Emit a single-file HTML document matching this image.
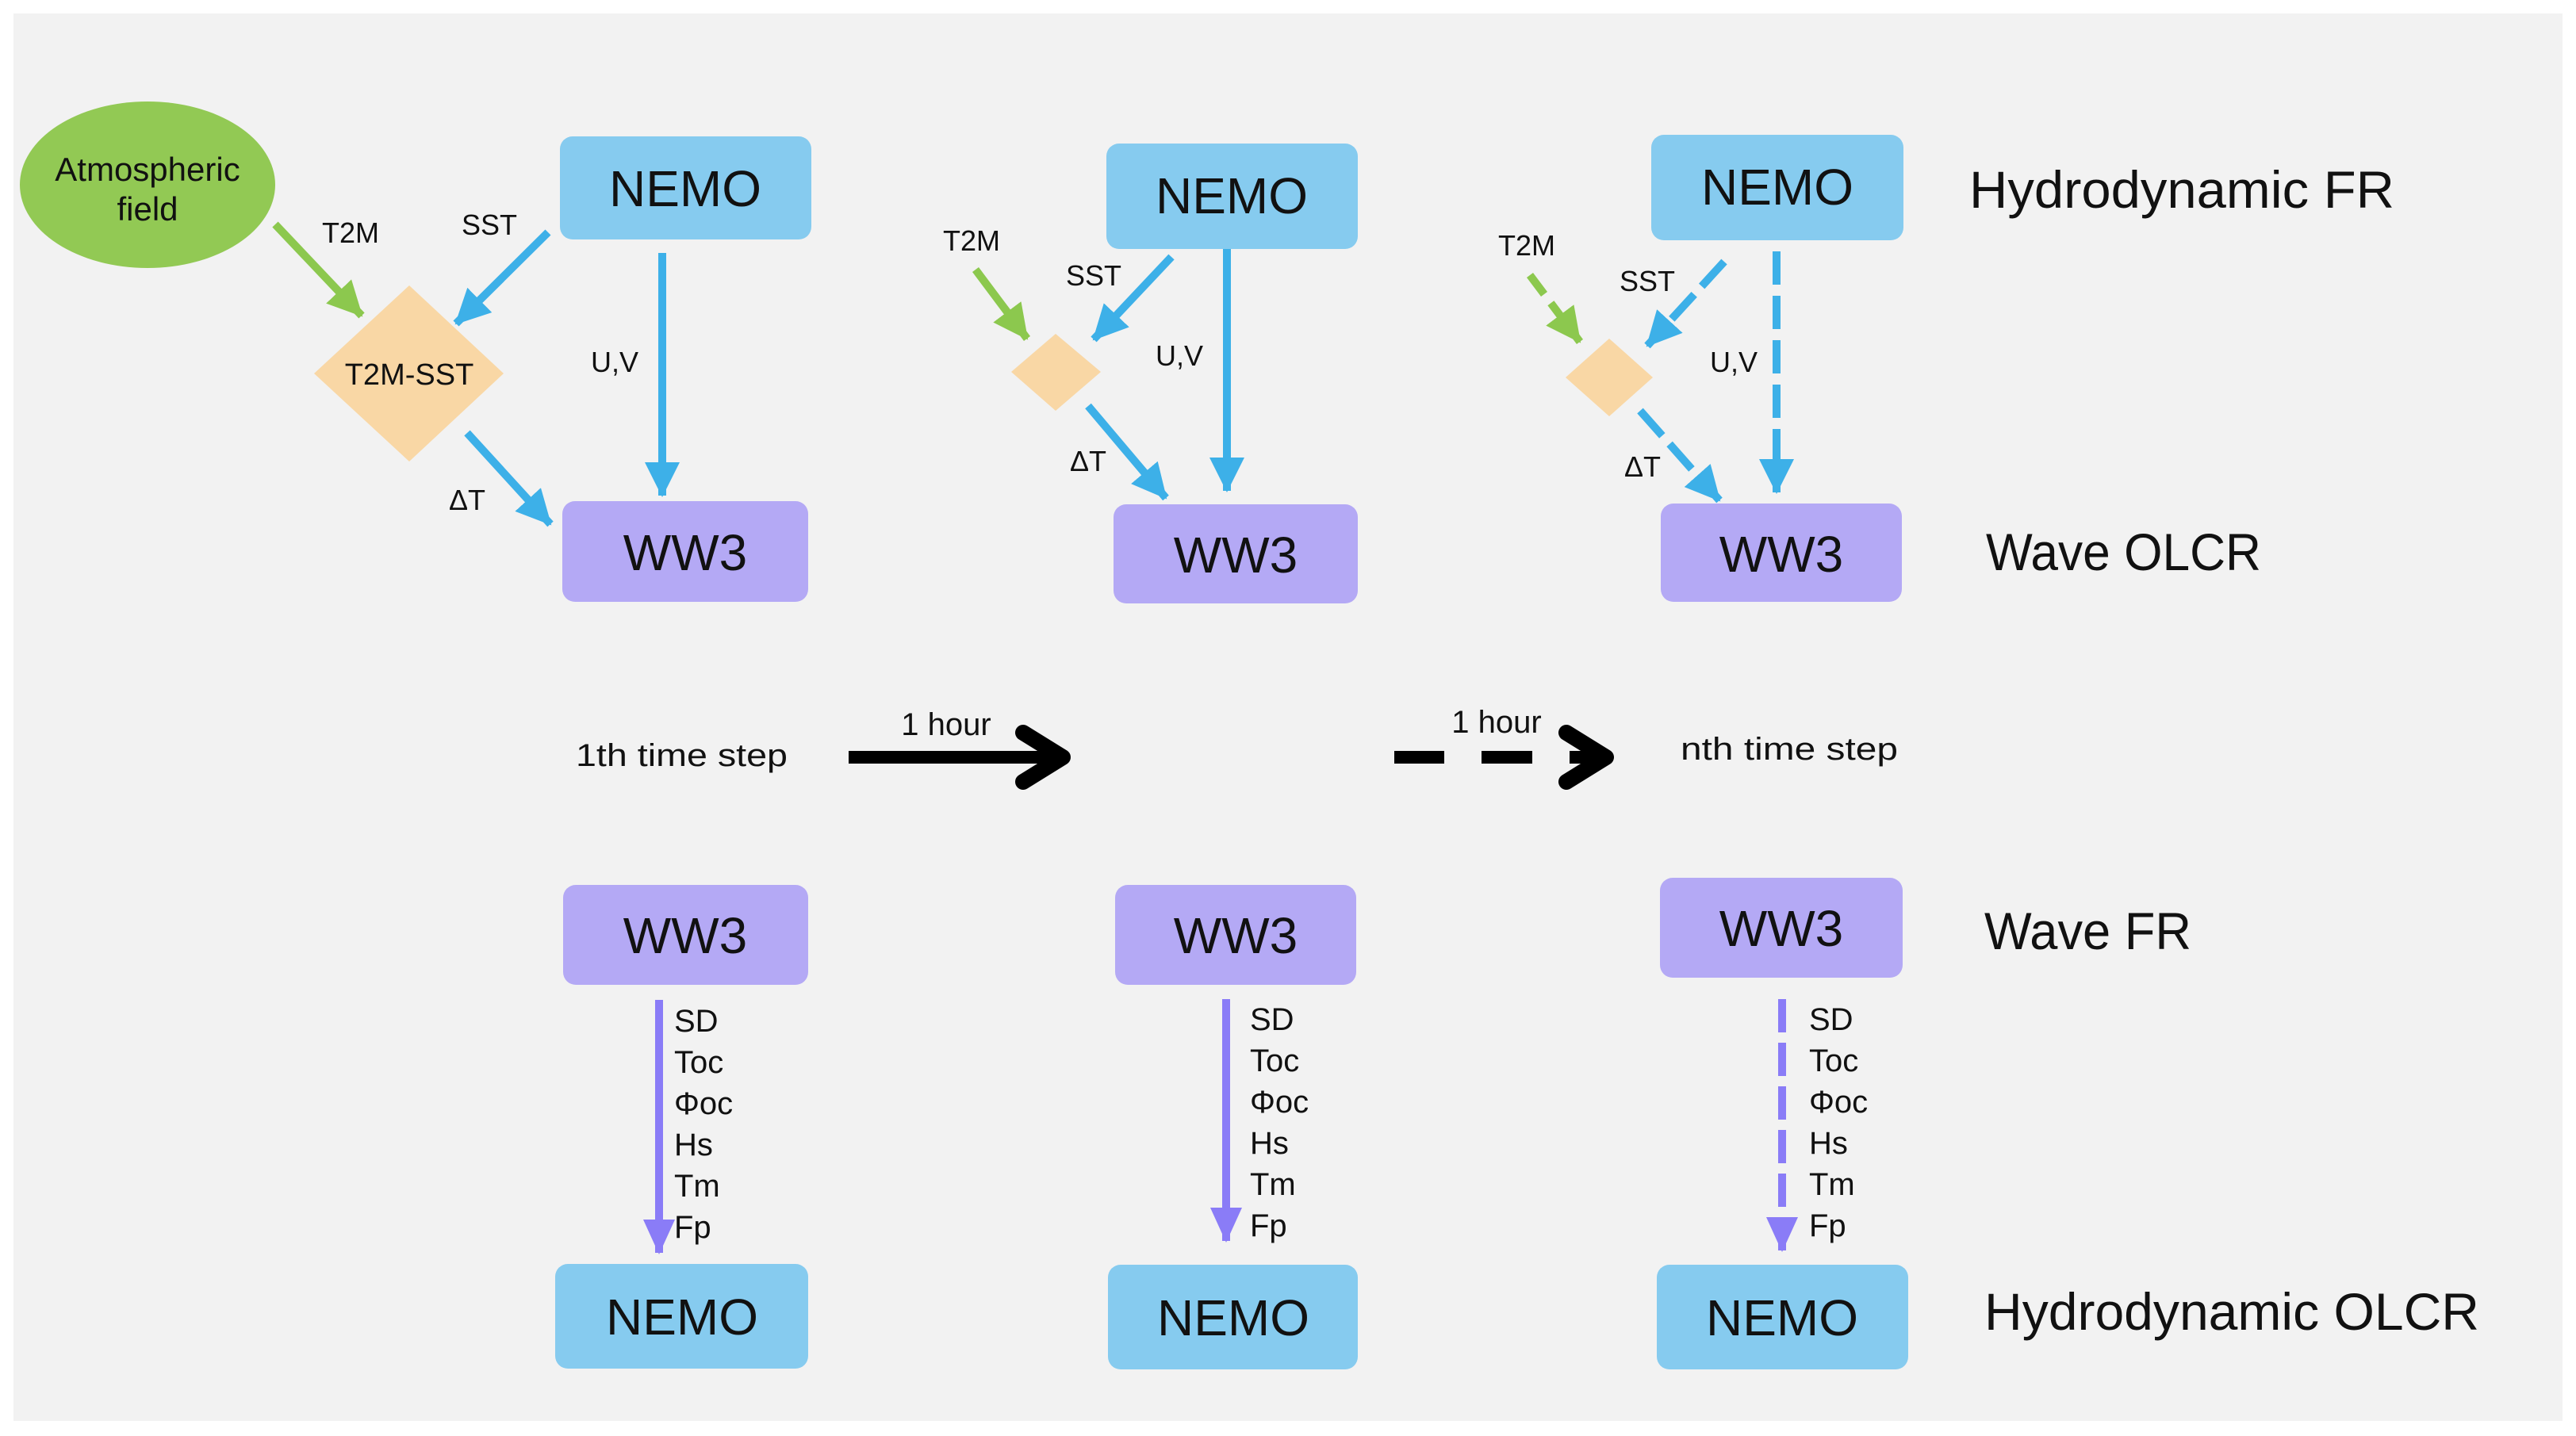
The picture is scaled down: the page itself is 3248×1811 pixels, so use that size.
<!DOCTYPE html>
<html><head><meta charset="utf-8"><style>
html,body{margin:0;padding:0;background:#fff;}
svg{display:block;}
text{font-family:"Liberation Sans",sans-serif;fill:#111;}
</style></head><body>
<svg width="3248" height="1811" viewBox="0 0 3248 1811" xmlns="http://www.w3.org/2000/svg">
<defs>
<marker id="mb" markerUnits="userSpaceOnUse" markerWidth="46" markerHeight="44" refX="42" refY="22" orient="auto"><path d="M0,0 L44,22 L0,44 z" fill="#3DB0E8"/></marker>
<marker id="mg" markerUnits="userSpaceOnUse" markerWidth="46" markerHeight="44" refX="42" refY="22" orient="auto"><path d="M0,0 L44,22 L0,44 z" fill="#8CC84E"/></marker>
<marker id="mp" markerUnits="userSpaceOnUse" markerWidth="46" markerHeight="40" refX="42" refY="20" orient="auto"><path d="M0,0 L44,20 L0,40 z" fill="#8A7CF7"/></marker>
</defs>
<rect x="17" y="17" width="3214" height="1775" fill="#F2F2F2"/>

<!-- Column 1 -->
<ellipse cx="186" cy="233" rx="161" ry="105" fill="#92C954"/>
<text x="186" y="228" font-size="42" text-anchor="middle">Atmospheric</text>
<text x="186" y="278" font-size="42" text-anchor="middle">field</text>
<rect x="706" y="172" width="317" height="130" rx="16" fill="#86CBEF"/>
<text x="864" y="260" font-size="64" text-anchor="middle">NEMO</text>
<polygon points="516,360 635,471 516,582 396,471" fill="#F9D7A5"/>
<text x="516" y="485" font-size="38" text-anchor="middle">T2M-SST</text>
<rect x="709" y="632" width="310" height="127" rx="16" fill="#B4A9F5"/>
<text x="864" y="719" font-size="64" text-anchor="middle">WW3</text>
<line x1="347" y1="283" x2="456" y2="398" stroke="#8CC84E" stroke-width="10" marker-end="url(#mg)"/>
<line x1="691" y1="293" x2="575" y2="408" stroke="#3DB0E8" stroke-width="10" marker-end="url(#mb)"/>
<line x1="835" y1="319" x2="835" y2="625" stroke="#3DB0E8" stroke-width="10" marker-end="url(#mb)"/>
<line x1="589" y1="546" x2="694" y2="661" stroke="#3DB0E8" stroke-width="10" marker-end="url(#mb)"/>
<text x="442" y="306" font-size="36" text-anchor="middle">T2M</text>
<text x="617" y="296" font-size="36" text-anchor="middle">SST</text>
<text x="775" y="469" font-size="36" text-anchor="middle">U,V</text>
<text x="589" y="643" font-size="36" text-anchor="middle">ΔT</text>

<!-- Column 2 -->
<rect x="1395" y="181" width="317" height="133" rx="16" fill="#86CBEF"/>
<text x="1553" y="269" font-size="64" text-anchor="middle">NEMO</text>
<polygon points="1331,421 1388,469 1331,518 1275,469" fill="#F9D7A5"/>
<rect x="1404" y="636" width="308" height="125" rx="16" fill="#B4A9F5"/>
<text x="1558" y="722" font-size="64" text-anchor="middle">WW3</text>
<line x1="1230" y1="340" x2="1295" y2="427" stroke="#8CC84E" stroke-width="10" marker-end="url(#mg)"/>
<line x1="1477" y1="324" x2="1379" y2="428" stroke="#3DB0E8" stroke-width="10" marker-end="url(#mb)"/>
<line x1="1547" y1="314" x2="1547" y2="619" stroke="#3DB0E8" stroke-width="10" marker-end="url(#mb)"/>
<line x1="1372" y1="512" x2="1470" y2="628" stroke="#3DB0E8" stroke-width="10" marker-end="url(#mb)"/>
<text x="1225" y="316" font-size="36" text-anchor="middle">T2M</text>
<text x="1379" y="360" font-size="36" text-anchor="middle">SST</text>
<text x="1487" y="461" font-size="36" text-anchor="middle">U,V</text>
<text x="1372" y="594" font-size="36" text-anchor="middle">ΔT</text>

<!-- Column 3 -->
<rect x="2082" y="170" width="318" height="133" rx="16" fill="#86CBEF"/>
<text x="2241" y="258" font-size="64" text-anchor="middle">NEMO</text>
<polygon points="2029,427 2084,476 2029,525 1974,476" fill="#F9D7A5"/>
<rect x="2094" y="635" width="304" height="124" rx="16" fill="#B4A9F5"/>
<text x="2246" y="721" font-size="64" text-anchor="middle">WW3</text>
<line x1="1929" y1="347" x2="1992" y2="431" stroke="#8CC84E" stroke-width="10" stroke-dasharray="30,14" marker-end="url(#mg)"/>
<line x1="2174" y1="330" x2="2077" y2="436" stroke="#3DB0E8" stroke-width="10" stroke-dasharray="42,14" marker-end="url(#mb)"/>
<line x1="2240" y1="317" x2="2240" y2="621" stroke="#3DB0E8" stroke-width="10" stroke-dasharray="42,14" marker-end="url(#mb)"/>
<line x1="2068" y1="518" x2="2168" y2="631" stroke="#3DB0E8" stroke-width="10" stroke-dasharray="42,14" marker-end="url(#mb)"/>
<text x="1925" y="322" font-size="36" text-anchor="middle">T2M</text>
<text x="2077" y="367" font-size="36" text-anchor="middle">SST</text>
<text x="2186" y="469" font-size="36" text-anchor="middle">U,V</text>
<text x="2071" y="601" font-size="36" text-anchor="middle">ΔT</text>

<!-- Row labels -->
<text x="2483" y="262" font-size="66" textLength="536" lengthAdjust="spacingAndGlyphs">Hydrodynamic FR</text>
<text x="2504" y="719" font-size="66" textLength="347" lengthAdjust="spacingAndGlyphs">Wave OLCR</text>
<text x="2502" y="1197" font-size="66" textLength="261" lengthAdjust="spacingAndGlyphs">Wave FR</text>
<text x="2502" y="1677" font-size="66" textLength="624" lengthAdjust="spacingAndGlyphs">Hydrodynamic OLCR</text>

<!-- Time arrows -->
<text x="726" y="966" font-size="40" textLength="267" lengthAdjust="spacingAndGlyphs">1th time step</text>
<text x="1193" y="927" font-size="40" text-anchor="middle">1 hour</text>
<line x1="1070" y1="955" x2="1330" y2="955" stroke="#000" stroke-width="16"/>
<polyline points="1290,924 1340,955 1290,986" fill="none" stroke="#000" stroke-width="20" stroke-linecap="round" stroke-linejoin="round"/>
<text x="1887" y="924" font-size="40" text-anchor="middle">1 hour</text>
<line x1="1758" y1="955" x2="1821" y2="955" stroke="#000" stroke-width="16"/>
<line x1="1868" y1="955" x2="1932" y2="955" stroke="#000" stroke-width="16"/>
<line x1="1979" y1="955" x2="2015" y2="955" stroke="#000" stroke-width="16"/>
<polyline points="1975,924 2025,955 1975,986" fill="none" stroke="#000" stroke-width="20" stroke-linecap="round" stroke-linejoin="round"/>
<text x="2119" y="958" font-size="40" textLength="274" lengthAdjust="spacingAndGlyphs">nth time step</text>

<!-- Bottom row -->
<rect x="710" y="1116" width="309" height="126" rx="16" fill="#B4A9F5"/>
<text x="864" y="1202" font-size="64" text-anchor="middle">WW3</text>
<rect x="700" y="1594" width="319" height="132" rx="16" fill="#86CBEF"/>
<text x="860" y="1683" font-size="64" text-anchor="middle">NEMO</text>
<line x1="831" y1="1261" x2="831" y2="1580" stroke="#8A7CF7" stroke-width="10" marker-end="url(#mp)"/>

<rect x="1406" y="1116" width="304" height="126" rx="16" fill="#B4A9F5"/>
<text x="1558" y="1202" font-size="64" text-anchor="middle">WW3</text>
<rect x="1397" y="1595" width="315" height="132" rx="16" fill="#86CBEF"/>
<text x="1555" y="1684" font-size="64" text-anchor="middle">NEMO</text>
<line x1="1546" y1="1260" x2="1546" y2="1565" stroke="#8A7CF7" stroke-width="10" marker-end="url(#mp)"/>

<rect x="2093" y="1107" width="306" height="126" rx="16" fill="#B4A9F5"/>
<text x="2246" y="1193" font-size="64" text-anchor="middle">WW3</text>
<rect x="2089" y="1595" width="317" height="132" rx="16" fill="#86CBEF"/>
<text x="2247" y="1684" font-size="64" text-anchor="middle">NEMO</text>
<line x1="2247" y1="1260" x2="2247" y2="1577" stroke="#8A7CF7" stroke-width="10" stroke-dasharray="42,13" marker-end="url(#mp)"/>

<g font-size="40">
<text x="850" y="1301">SD</text><text x="850" y="1353">Toc</text><text x="850" y="1405">Φoc</text><text x="850" y="1457">Hs</text><text x="850" y="1509">Tm</text><text x="850" y="1561">Fp</text>
<text x="1576" y="1299">SD</text><text x="1576" y="1351">Toc</text><text x="1576" y="1403">Φoc</text><text x="1576" y="1455">Hs</text><text x="1576" y="1507">Tm</text><text x="1576" y="1559">Fp</text>
<text x="2281" y="1299">SD</text><text x="2281" y="1351">Toc</text><text x="2281" y="1403">Φoc</text><text x="2281" y="1455">Hs</text><text x="2281" y="1507">Tm</text><text x="2281" y="1559">Fp</text>
</g>
</svg>
</body></html>
